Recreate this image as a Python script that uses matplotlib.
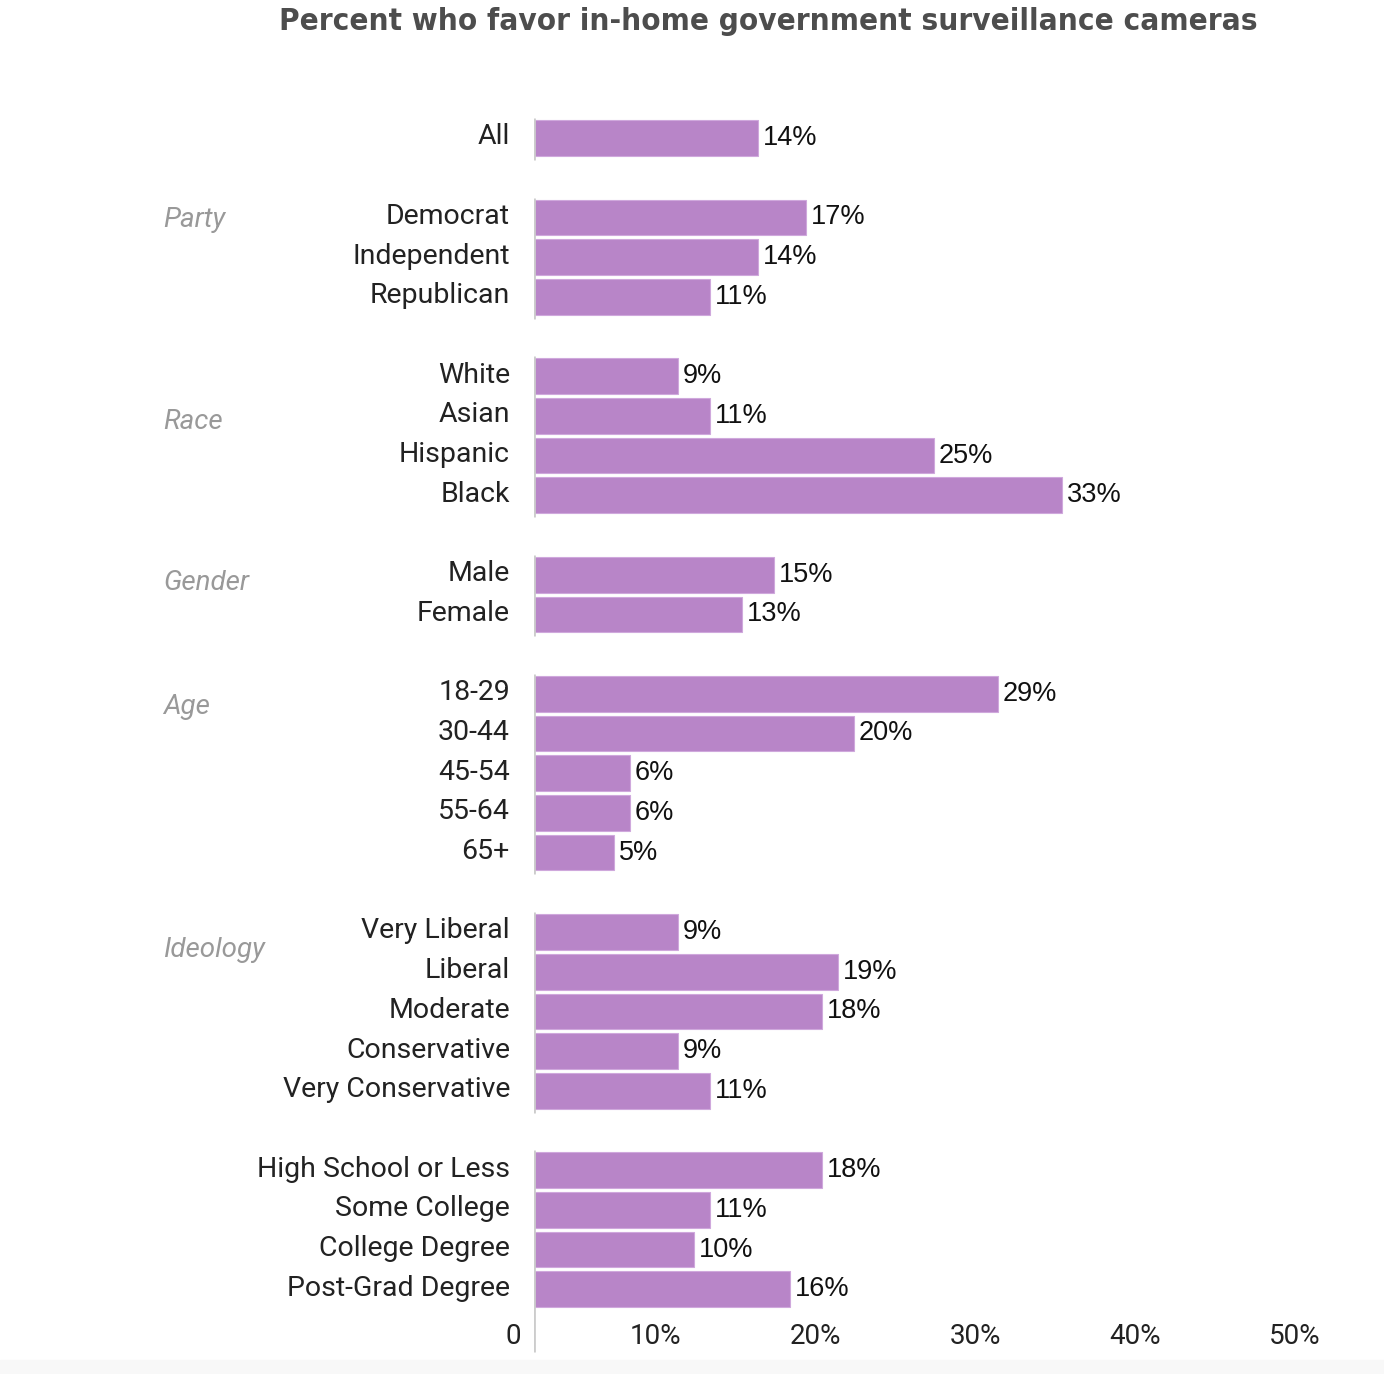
import matplotlib
matplotlib.use("Agg")
import matplotlib.pyplot as plt
from matplotlib.transforms import ScaledTranslation, blended_transform_factory
from matplotlib.patches import Rectangle

# Survey data: percent who favor in-home government surveillance cameras
categories = ["All",
              "Democrat", "Independent", "Republican",
              "White", "Asian", "Hispanic", "Black",
              "Male", "Female",
              "18-29", "30-44", "45-54", "55-64", "65+",
              "Very Liberal", "Liberal", "Moderate", "Conservative", "Very Conservative",
              "High School or Less", "Some College", "College Degree", "Post-Grad Degree"]
values = [14,
          17, 14, 11,
          9, 11, 25, 33,
          15, 13,
          29, 20, 6, 6, 5,
          9, 19, 18, 9, 11,
          18, 11, 10, 16]
group_sizes = [1, 3, 4, 2, 5, 5, 4]
group_names = ["", "Party", "Race", "Gender", "Age", "Ideology", ""]
group_label_shift = [0, 0.07, 1.15, 0.2, 0.32, 0.45, 0]
xticks = [0, 10, 20, 30, 40, 50]
xtick_labels = ["0", "10%", "20%", "30%", "40%", "50%"]

bar_color = "#b885c8"

# row positions: one empty row between groups
positions = []
group_spans = []
row = 0
for size in group_sizes:
    start = row
    for k in range(size):
        positions.append(row)
        row += 1
    group_spans.append((start, row - 1))
    row += 1

fig = plt.figure(figsize=(13.84, 13.74), dpi=100)
ax = fig.add_axes([534 / 1384, 1 - 1368.7 / 1374, 800 / 1384, (1368.7 - 98.3) / 1374])

ax.barh(positions, values, height=0.9, color=bar_color, edgecolor="#cfa8dc", linewidth=0.8, zorder=2)
ax.set_xlim(0, 50)
ax.set_ylim(31, -1)

for spine in ax.spines.values():
    spine.set_visible(False)
ax.set_xticks([])
ax.set_yticks(positions)
ax.set_yticklabels(categories, family="Roboto", fontsize=20.5, color="#222222")
ax.tick_params(axis="y", length=0, pad=17.3)
up = ScaledTranslation(0, 4 / 100, fig.dpi_scale_trans)
for lab in ax.get_yticklabels():
    lab.set_transform(lab.get_transform() + up)

# value labels
for y, v in zip(positions, values):
    ax.annotate(f"{v}%", (v, y), xytext=(3.5, 0), textcoords="offset points",
                va="center", ha="left", family="Liberation Sans", fontsize=19.5, color="#111111")

# segmented axis line, one piece per group
for i, (a, b) in enumerate(group_spans):
    bottom = b + 0.55 if i < len(group_spans) - 1 else 30.58
    ax.plot([0, 0], [a - 0.5, bottom], color="#cccccc", lw=2, zorder=3, solid_capstyle="butt")

# group labels
group_tf = blended_transform_factory(fig.transFigure, ax.transData)
for (a, b), name, shift in zip(group_spans, group_names, group_label_shift):
    if name:
        ax.text(163 / 1384, a + shift, name, transform=group_tf,
                ha="left", va="center", family="Roboto", style="italic", fontsize=20, color="#999999")

# x tick labels, right aligned just left of the tick
offset = ScaledTranslation(-13 / 100, 0, fig.dpi_scale_trans)
for t, lab in zip(xticks, xtick_labels):
    ax.text(t, 30.2, lab, transform=ax.transData + offset, ha="right", va="center",
            family="Roboto", fontsize=20, color="#222222")

fig.text(768 / 1384, 1 - 22 / 1374, "Percent who favor in-home government surveillance cameras",
         ha="center", va="center", family="DejaVu Sans", fontstretch="condensed",
         fontweight="bold", fontsize=22.5, color="#4d4d4d")

fig.patches.append(Rectangle((0, 0), 1, 14 / 1374, transform=fig.transFigure,
                             color="#f8f8f8", zorder=0))

fig.savefig("out.png", dpi=100)
